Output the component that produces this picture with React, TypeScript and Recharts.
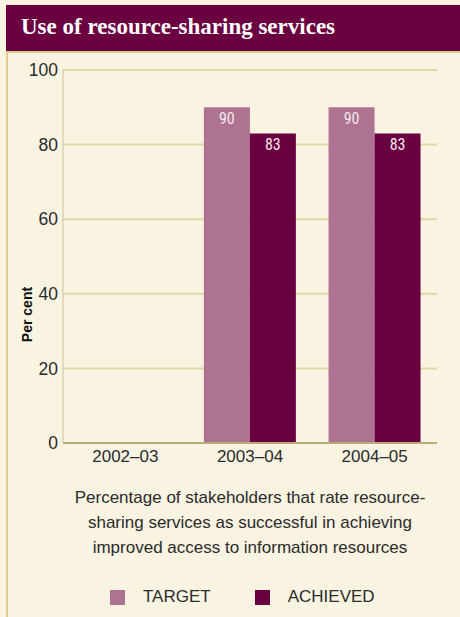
import React from 'react';
import { BarChart, Bar, XAxis, YAxis, CartesianGrid, LabelList, Legend } from 'recharts';

const categories = ['2002–03', '2003–04', '2004–05'];
const targetValues: (number | null)[] = [null, 90, 90];
const achievedValues: (number | null)[] = [null, 83, 83];
const yTicks = [0, 20, 40, 60, 80, 100];
const seriesNames = ['TARGET', 'ACHIEVED'];
const captionLines = [
  'Percentage of stakeholders that rate resource-',
  'sharing services as successful in achieving',
  'improved access to information resources',
];
const titleText = 'Use of resource-sharing services';
const yLabel = 'Per cent';

const TARGET_COLOR = '#ad7390';
const ACHIEVED_COLOR = '#69003f';
const TEXT_FONT = 'Liberation Sans, Arial, sans-serif';

const data = categories.map((c, i) => ({ category: c, target: targetValues[i], achieved: achievedValues[i] }));

const LegendContent = () => (
  <div style={{ display: 'flex', justifyContent: 'flex-start', paddingLeft: 110, fontFamily: TEXT_FONT, fontSize: 17, color: '#2b2b2b' }}>
    {seriesNames.map((n, i) => (
      <div key={n} style={{ display: 'flex', alignItems: 'center', marginRight: i === 0 ? 44 : 0 }}>
        <span style={{ display: 'inline-block', width: 15, height: 15, background: i === 0 ? TARGET_COLOR : ACHIEVED_COLOR, marginRight: 18 }} />
        <span>{n}</span>
      </div>
    ))}
  </div>
);

export default function App() {
  return (
    <div style={{ position: 'absolute', left: 0, top: 0, width: 460, height: 617, background: '#f9f3e2', overflow: 'hidden' }}>
      <div style={{ position: 'absolute', left: 6, top: 5, width: 454, height: 46, background: '#6a003f' }} />
      <div style={{ position: 'absolute', left: 6, top: 51, width: 454, height: 2, background: '#dccd8e' }} />
      <div style={{ position: 'absolute', left: 6, top: 51, width: 2, height: 566, background: '#dccd8e' }} />
      <div style={{ position: 'absolute', left: 21, top: 12, color: '#ffffff', fontFamily: 'Liberation Serif, serif', fontWeight: 'bold', fontSize: 23, lineHeight: '30px', whiteSpace: 'nowrap' }}>
        {titleText}
      </div>
      <div style={{ position: 'absolute', left: 0, top: 0 }}>
        <BarChart width={460} height={617} data={data} margin={{ top: 70, right: 23, left: 0, bottom: 144 }} barCategoryGap="13%" barGap={0}>
          <CartesianGrid vertical={false} stroke="#e2d7a6" strokeWidth={2} />
          <XAxis dataKey="category" height={30} axisLine={{ stroke: '#b9aa78', strokeWidth: 2 }} tickLine={false} tickSize={0} tickMargin={7}
            tick={{ fill: '#2b2b2b', fontSize: 17, fontFamily: TEXT_FONT }} />
          <YAxis width={63} domain={[0, 100]} ticks={yTicks} axisLine={{ stroke: '#cfc294', strokeWidth: 1 }} tickLine={false} tickSize={0} tickMargin={5}
            tick={{ fill: '#2b2b2b', fontSize: 17.5, fontFamily: TEXT_FONT }}
            label={{ value: yLabel, angle: -90, position: 'insideLeft', offset: 27, dy: 58, style: { fontWeight: 'bold', fontSize: 14, fill: '#111', fontFamily: TEXT_FONT, textAnchor: 'middle' } }} />
          <Legend layout="horizontal" verticalAlign="middle" align="center" wrapperStyle={{ top: 587, left: 0, width: 460 }} content={<LegendContent />} />
          <Bar dataKey="target" name="TARGET" fill={TARGET_COLOR} isAnimationActive={false}>
            <LabelList dataKey="target" position="insideTop" offset={5} fill="#f4e6ee" fontSize={16} fontFamily="Liberation Sans Narrow, Roboto Condensed, Arial Narrow, sans-serif" />
          </Bar>
          <Bar dataKey="achieved" name="ACHIEVED" fill={ACHIEVED_COLOR} isAnimationActive={false}>
            <LabelList dataKey="achieved" position="insideTop" offset={5} fill="#f4e6ee" fontSize={16} fontFamily="Liberation Sans Narrow, Roboto Condensed, Arial Narrow, sans-serif" />
          </Bar>
        </BarChart>
      </div>
      <div style={{ position: 'absolute', left: 40, top: 485, width: 420, textAlign: 'center', fontFamily: TEXT_FONT, fontSize: 17, lineHeight: '25px', color: '#2b2b2b' }}>
        {captionLines.map((l) => (<div key={l}>{l}</div>))}
      </div>
    </div>
  );
}
